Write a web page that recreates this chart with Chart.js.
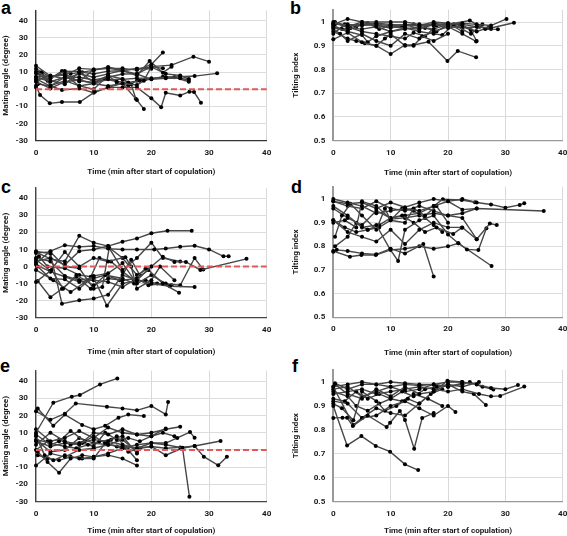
<!DOCTYPE html>
<html>
<head>
<meta charset="utf-8">
<script src="https://cdn.jsdelivr.net/npm/chart.js@4.4.0/dist/chart.umd.min.js"></script>
<style>
  body { margin: 0; background: #fff; width: 567px; height: 536px; position: relative; overflow: hidden; }
  .panel { position: absolute; }
  .tag { position: absolute; font: bold 18px "Liberation Sans", Arial, sans-serif; color: #000; line-height: 18px; }
</style>
</head>
<body>
<div class="tag" style="left:1px;top:-1px">a</div>
<div class="tag" style="left:290px;top:-1px">b</div>
<div class="tag" style="left:1px;top:178px">c</div>
<div class="tag" style="left:291px;top:178px">d</div>
<div class="tag" style="left:0px;top:357px">e</div>
<div class="tag" style="left:292px;top:357px">f</div>

<div class="panel" id="pa"><canvas id="ca"></canvas></div>
<div class="panel" id="pb"><canvas id="cb"></canvas></div>
<div class="panel" id="pc"><canvas id="cc"></canvas></div>
<div class="panel" id="pd"><canvas id="cd"></canvas></div>
<div class="panel" id="pe"><canvas id="ce"></canvas></div>
<div class="panel" id="pf"><canvas id="cf"></canvas></div>

<script>
/* ---------- DATA ---------- */

const xTicks = [0, 10, 20, 30, 40];
const angleTicks = [-30, -20, -10, 0, 10, 20, 30, 40];
const tiltTicks = [0.5, 0.6, 0.7, 0.8, 0.9, 1];

const xTitle = "Time (min after start of copulation)";
const angleTitle = "Mating angle (degree)";
const tiltTitle = "Tilting index";

// panel a: mating angle
const timeA = [
  [0, 2.5, 5, 7.5, 10, 12.5, 15, 17.5, 20, 22],
  [0, 0.7, 2.4, 4.5, 7.6, 10.2, 12.5, 15, 17.5, 18.7],
  [0, 2.5, 5, 7.5, 10, 12.5, 15, 17.5, 20, 22.5, 25, 26.5],
  [0, 2.5, 4.5, 7.5, 10, 12.5, 15, 17.5, 20, 21.7, 22.5, 25, 26.6, 27.4, 28.6],
  [0, 2.5, 5, 7.5, 10, 12.5, 15, 17.5, 20, 23.5, 27.3, 30],
  [0, 2.5, 5, 7.5, 10, 12.5, 15, 17.5, 20, 22.5, 25, 27.5, 31.4],
  [0, 2.5, 5, 7.5, 10, 12.5, 15, 17.5, 18.7, 20, 22],
  [0, 1, 2.5, 5, 7.5, 10, 12, 14, 16, 18, 20, 22, 24, 26.5],
  [0, 2.5, 5, 7.5, 10, 12.5, 15, 17.5, 19.7, 22, 23.5],
  [0.5, 2.5, 5, 7.5, 10, 12.5, 15, 16.5, 17.3],
  [0, 2.5, 5, 7.5, 10, 12.5, 15, 17.5, 20, 22.5, 25, 26.5],
  [0, 2, 4.5, 6, 8, 10, 12.5, 15, 17.5, 20],
  [0.3, 2.5, 5, 7.5, 10, 12.5, 14, 16, 17.5, 19]
];
const angleA = [
  [13.7, 7.7, 8.3, 12.2, 11.6, 12.2, 12.2, 11.2, 14.5, 21.5],
  [2, -3.4, -8.2, -7.4, -7.4, -1.5, 1.1, 3.4, -6.3, -11.5],
  [10.3, 6.4, 10.6, 10.3, 8.9, 10.6, 10.8, 8.9, 5.8, 6.4, 6.4, 5.4],
  [6, 1.9, -0.4, 0.5, -2, 1.1, 1.1, 1.1, -5.3, -10.5, -2, -3.6, -1.4, -1.6, -7.8],
  [9.3, 4.4, 7, 7, 5.4, 7, 8.9, 9, 13.2, 14.1, 19, 16.1],
  [4.4, 0.5, 4.4, 5.4, 3.4, 5.8, 5.8, 6.4, 6.5, 7, 7.3, 7.7, 9.3],
  [7.3, 7.7, 8.3, 1.9, 3.4, 1.9, 3.4, 2.5, 5, 13.2, 12.2],
  [1.1, 10, 2, 7, 5, 4, 6, 4.5, 4, 5, 6, 7.3, 7, 4.4],
  [12, 7, 9, 4.5, 11.6, 12.2, 11, 8, 16.5, 9.7, 13.2],
  [9.5, 5, 3, 10, 4, 8, 6, 3, -5.5],
  [5, 8, 6, 9, 7, 9, 11, 12, 13, 9, 8, 6],
  [7, 5, 10.6, 9, 10, 11, 13, 11, 12, 12],
  [3, 2, 5, 2, 0, 8, 4, 2, 5, 6]
];

// panel b: tilting index
const timeB = [
  [0, 2.5, 5, 7.5, 10, 12.5, 15, 17.5, 20, 22.5, 25, 27.5, 30.2],
  [0, 2.5, 5, 7.5, 10, 12.5, 14, 16.6, 19.9, 21.7, 24.9],
  [0, 1.2, 2.5, 5, 7.5, 10, 12.5, 15, 17.5, 20, 22.5, 24.9],
  [0, 2.5, 5, 7.5, 10, 12.5, 15, 17.5, 20, 22.5, 25, 27.5, 31.5],
  [0, 2.5, 5, 6, 7.5, 10, 12.5, 15, 17.5, 20, 23.8, 26.5, 28.7],
  [0, 2.5, 4, 5.5, 7.5, 9, 10, 12.5, 14, 15.5, 17.5, 20],
  [0, 2.5, 5, 7.5, 10, 12.5, 15, 17.5, 20, 22.5, 25, 27],
  [0.3, 2.5, 5, 7.5, 10, 12.5, 15, 17.5, 19, 21, 24, 26],
  [0, 1.5, 3, 5, 7.5, 10, 12.5, 14, 16, 18, 20, 22, 24, 25],
  [0.3, 2.5, 5, 7.5, 10, 12.5, 15, 17.5, 20, 22.5],
  [0, 2.5, 5, 7.5, 10, 12.5, 15, 17.5, 20, 22.5, 25.5, 27.5],
  [0, 2, 4, 6, 8, 10, 12, 14, 16, 18, 20]
];
const tiltB = [
  [0.99, 1.013, 1.0, 1.0, 1.0, 1.0, 0.99, 0.99, 0.99, 0.995, 0.99, 0.985, 1.013],
  [0.927, 0.955, 0.915, 0.9, 0.865, 0.903, 0.903, 0.917, 0.836, 0.878, 0.851],
  [0.97, 0.95, 0.92, 0.95, 0.92, 0.9, 0.95, 0.93, 0.96, 0.98, 0.95, 0.918],
  [1.0, 0.985, 0.99, 0.995, 0.99, 0.985, 0.985, 1.0, 0.995, 0.99, 0.98, 0.975, 0.997],
  [0.98, 0.96, 0.945, 0.915, 0.94, 0.96, 0.97, 0.98, 0.97, 0.99, 1.006, 0.97, 0.969],
  [0.96, 0.93, 0.92, 0.91, 0.9, 0.93, 0.95, 0.9, 0.9, 0.94, 0.92, 0.95],
  [0.995, 0.98, 1.0, 0.985, 0.975, 0.99, 0.97, 0.99, 0.975, 0.985, 0.96, 0.975],
  [1.0, 0.975, 0.97, 0.98, 0.96, 0.975, 0.96, 0.95, 0.945, 0.99, 0.95, 0.99],
  [0.985, 0.97, 0.975, 0.96, 0.95, 0.94, 0.93, 0.955, 0.94, 0.985, 0.99, 0.99, 0.965, 0.92],
  [0.99, 0.99, 0.985, 0.99, 0.985, 0.99, 0.985, 0.985, 0.995, 0.96],
  [0.975, 0.965, 0.99, 0.985, 0.98, 0.975, 0.97, 0.995, 0.985, 0.975, 0.98, 0.97],
  [0.95, 0.99, 0.98, 0.995, 0.97, 0.985, 0.98, 0.99, 0.975, 0.96, 0.99]
];

// panel c: mating angle
const timeC = [
  [0, 2.5, 5, 7.5, 10, 12.5, 15, 17.5, 20, 22.8, 27],
  [0, 2.5, 5, 7.5, 10, 12.5, 15, 17.5, 20.5, 22.5, 25, 27.5, 30, 32.5, 33.4],
  [0, 2.5, 4.5, 7.5, 10, 12.5, 15, 17.5, 20, 22, 24, 26, 28.5, 36.5],
  [0, 2.7, 4.7, 7, 10, 12.5, 15, 17.5, 19.5, 22, 24.8],
  [0, 2.5, 5, 7.5, 10, 12.3, 15, 17.5, 20, 23.2, 27.5],
  [0.3, 2.5, 5, 7.5, 10, 12.5, 15, 17.5, 20, 22.5, 25, 27.5, 29],
  [0, 2.5, 5, 7.5, 10, 12.5, 15.5, 16.5, 17.5, 20, 21.5, 24],
  [0.5, 2, 5, 7.5, 9.5, 11, 13, 15, 17, 19],
  [0, 2.5, 5, 7.5, 10, 12.5, 15, 17.5, 19.5, 22],
  [0.3, 2.5, 4.5, 7, 9.5, 12, 14.5, 16.5, 18],
  [0, 2.5, 5, 7.5, 10, 11.5, 12.7, 15, 17.5, 20],
  [0, 2.5, 5, 7.5, 10, 12.5, 15, 17.5, 20, 22, 25],
  [0, 3, 6, 9, 12, 15, 17, 19, 21, 23.5]
];
const angleC = [
  [8.5, 4.5, 3, 18, 14, 12, 14.5, 16.5, 19.5, 21, 21],
  [2, 9, 12.5, 11.5, 12, 10.5, 10, 10, 10, 10.6, 11.6, 12.2, 10, 6, 6],
  [9, 7.5, -21.8, -19.8, -18.8, -16.5, -5, -8, 0, 5.7, 2.7, 2.7, -2, 4.5],
  [-9, -2, -13, -5, -11, -7, -8, -7, -2, -10, -15.3],
  [5, 3, -5.5, -8, -6.5, -23, -10, -8, -10, -11.6, -12],
  [0, -7, -7.5, -13, -5.5, -4, 2, -10, -5, -10, -11, 5, -1.8],
  [4, -2.5, 8.5, 0, 5, 3, 5.5, 0, -13, -8, 0, -8],
  [6, 0, -1, -5, -6, 5, 3, -3, -8, -1],
  [1, -3, -6, -9, -8, -9, -12, -7, -11, -10],
  [-8.5, -18, -13, -6, -13, -5, -8, 4, -5],
  [8, 8.5, 0, -1, -13, -12, 11, 5, -5, 0],
  [3, 5, 1, 9, 10, 12, -2, 5, 14, 5, 3],
  [-2, -8, -15, -8, -5, -7, -10, -8, -10, -11]
];

// panel d: tilting index
const timeD = [
  [0, 2.5, 5, 7.5, 10, 12.5, 15, 17.5, 20, 22.5, 25, 27.5, 30, 32.5, 33.3],
  [0, 2.5, 5, 7.5, 10, 12.5, 15, 17.5, 20, 22.5, 25, 36.7],
  [0, 2.5, 5, 7.5, 10, 12.5, 15, 17.5, 20, 22.5, 25, 27.3, 28.5],
  [0, 0.6, 2.5, 5, 7.5, 10, 12.5, 15.7, 17.5],
  [0, 2.9, 4.9, 7.4, 10, 12.5, 15, 17.5, 20, 21.8, 23.3, 25.3, 26.7],
  [0, 2.5, 5, 7.5, 9.9, 11.3, 12.5, 15, 17.5, 20, 21.8, 27.6],
  [0.3, 1.5, 3, 5, 7.5, 9, 10, 12.5, 14, 16, 18, 20],
  [0, 2, 4, 6, 8, 10, 12, 14, 16, 18, 20.9, 22.4],
  [0, 2.5, 5, 7.5, 10, 12.5, 15, 17.5, 19.1, 22.4, 24.7],
  [0.3, 2.5, 4, 6, 8, 10, 12, 14, 16, 17.5, 19],
  [0, 2, 4, 5, 7.5, 10, 12.5, 15, 17.5, 20, 22.5, 25],
  [0, 2.5, 5, 7.5, 10, 12.5, 15, 17.5, 20, 22.5, 25]
];
const tiltD = [
  [0.99, 0.98, 0.985, 0.96, 0.985, 0.965, 0.985, 1.0, 0.99, 1.0, 0.985, 0.977, 0.963, 0.975, 0.982],
  [1.0, 0.985, 0.97, 0.94, 0.95, 0.96, 0.95, 0.97, 0.99, 0.955, 0.96, 0.949],
  [0.91, 0.86, 0.84, 0.82, 0.87, 0.81, 0.87, 0.9, 0.88, 0.88, 0.83, 0.896, 0.89],
  [0.777, 0.785, 0.78, 0.77, 0.766, 0.79, 0.77, 0.81, 0.672],
  [0.78, 0.756, 0.763, 0.763, 0.785, 0.79, 0.8, 0.79, 0.8, 0.813, 0.787, 0.784, 0.876],
  [0.97, 0.93, 0.88, 0.89, 0.787, 0.738, 0.87, 0.91, 0.93, 0.85, 0.813, 0.717],
  [0.84, 0.93, 0.98, 0.93, 0.87, 0.96, 0.91, 0.9, 0.96, 0.93, 0.97, 0.9],
  [0.91, 0.88, 0.86, 0.87, 0.89, 0.92, 0.93, 0.9, 0.86, 0.88, 0.852, 0.879],
  [0.96, 0.92, 0.89, 0.95, 0.92, 0.93, 0.94, 0.97, 0.999, 0.996, 0.986],
  [0.8, 0.84, 0.9, 0.87, 0.88, 0.91, 0.96, 0.95, 0.92, 0.89, 0.86],
  [0.9, 0.91, 0.88, 0.99, 0.97, 0.915, 0.92, 0.93, 0.94, 0.93, 0.92, 0.83],
  [0.99, 0.97, 0.96, 0.99, 0.96, 0.95, 0.97, 0.95, 0.93, 0.94, 0.96]
];

// panel e: mating angle
const timeE = [
  [0, 3, 6.2, 7.6, 11.1, 14.1],
  [0, 2.5, 5, 6.9, 12.3, 15, 17.5, 20, 22.5, 22.9],
  [0.3, 3, 5, 8, 10, 12, 14.3, 16, 18.7],
  [0, 2.5, 5, 7.5, 10, 12.5, 15, 17.5, 20, 22.5, 25],
  [0, 2.5, 5, 7.5, 10, 12.5, 15, 17.5, 20, 22.5, 25.4, 26.6],
  [0, 2.5, 5, 7.5, 10, 12.5, 15, 17.5, 20, 22.5, 25, 27.5, 29.1, 31.6, 33.1],
  [0.3, 2, 4, 6, 8, 10, 12.5, 15, 17.5],
  [0, 1.5, 3, 5, 7.5, 10, 12.5, 15, 17.5, 20, 22.5, 24.5, 26.7, 27.5],
  [0.3, 2, 4, 6, 8, 10, 12, 14, 16, 18, 20, 22.5, 25.3, 27.5, 32],
  [0, 2.5, 5, 7.5, 10, 12.5, 15, 17.5, 20, 22, 24],
  [0, 2.5, 4, 6, 8.5, 10, 12, 14, 16, 17.5],
  [0, 2.5, 5, 7, 9, 11, 13, 15, 17.5],
  [0, 2, 4, 6, 8, 10, 12, 14, 16, 18, 20, 22.5],
  [0.3, 2.5, 5, 7.5, 10, 12.5, 15, 17.5]
];
const angleE = [
  [10, 27.4, 30.9, 31.9, 38, 41.5],
  [22.5, 17.5, 21, 27, 25.1, 24.1, 23, 25.5, 20.6, 27.8],
  [24, 14, 20.5, 14.5, 12, 14, 18.7, 20.5, 19.7],
  [12, 5, 7, 11, 7, 13, 10, 9, 10, 12, 13.5],
  [5, 2, 4, 4, 6, 5, 3, 1, 4, 3, 1.3, -27.1],
  [-9, -2, -4, 0, 1, 3, 2, 1, 2, 1, 1.5, 2.3, -3.9, -8.9, -3.9],
  [-1, -7, -13.2, -5, -3, -4, -3, -5, -9],
  [8, -3, -6, -3, -5, -4, -2, 1, 3, 4, 4, 7, 10.4, 7.1],
  [-3, -5, -6, -4, -5, -5, 4, 8, -1, 1, 2, -3, 1, 2.3, 5.2],
  [3, 10, 5, 3, 10, 9, 12, 9, 8, 10, 8],
  [9, 3, 5, 11, 5, 8, 4, 2, 0, -6],
  [6, 4, 2, 1, 3, 5, 6, 8, -2],
  [0, 5, 6, 3, 4, 2, 10, 6, 7, 5, 8, 12.5],
  [5, -1, 0, 7, 4, 3, 6, -1]
];

// panel f: tilting index
const timeF = [
  [0, 2.4, 4.9, 7.4, 9.9, 12.5, 14.8],
  [0, 1.6, 2.4, 3.4, 6, 9.3, 9.9, 11.6, 12.5, 14.1, 15.5, 17.5],
  [0, 2.5, 5, 7.5, 10, 12.5, 15, 17.5, 20, 22.5, 25, 27.5, 30, 32.2],
  [0, 2.5, 5, 7.5, 10, 12.5, 15, 17.5, 20, 22.5, 25.4, 27.5, 29.1, 33.3],
  [0, 2.5, 5, 7.5, 10, 12.5, 15, 17.5, 20, 21.3],
  [0.3, 2.5, 5, 7.5, 10, 12.5, 15, 17.5, 20, 22.5, 24.5, 26.6],
  [0, 2, 4, 6, 8, 10, 12, 14, 16, 18, 20, 22.5, 25.4],
  [0, 1.5, 3.5, 5, 7.5, 9, 11, 13, 15, 17, 19],
  [0.3, 2.5, 5, 7.5, 10, 12.5, 15, 17.5, 20, 22.5, 23.8, 26, 27.9],
  [0, 2.5, 4, 6, 8, 10, 12, 14, 16.5, 19],
  [0, 3.5, 5, 7.5, 10, 12.5, 15, 17.5, 19.9, 22.4],
  [0, 2.5, 5, 7.5, 10, 12.5, 15, 17.5, 20, 22.5]
];
const tiltF = [
  [0.9, 0.735, 0.774, 0.733, 0.709, 0.656, 0.632],
  [0.85, 0.851, 0.851, 0.816, 0.86, 0.812, 0.83, 0.879, 0.841, 0.721, 0.85, 0.87],
  [0.98, 0.99, 1.0, 0.99, 1.0, 0.995, 0.99, 0.99, 1.0, 1.0, 0.99, 0.975, 0.97, 0.987],
  [0.95, 0.96, 0.97, 0.95, 0.96, 0.97, 0.98, 0.97, 0.96, 0.97, 0.95, 0.94, 0.942, 0.981],
  [0.92, 0.91, 0.85, 0.86, 0.9, 0.92, 0.89, 0.86, 0.9, 0.875],
  [0.99, 0.95, 0.93, 0.97, 0.94, 0.98, 0.95, 0.96, 0.99, 0.96, 0.95, 0.904],
  [0.93, 0.92, 0.96, 0.93, 0.95, 0.93, 0.96, 0.94, 0.97, 0.98, 0.99, 0.98, 1.0],
  [0.91, 0.89, 0.84, 0.96, 0.92, 0.88, 0.9, 0.93, 0.91, 0.95, 0.97],
  [0.995, 0.97, 0.99, 0.99, 0.98, 0.99, 0.985, 0.99, 0.98, 0.99, 1.0, 0.98, 0.969],
  [0.96, 0.94, 0.9, 0.88, 0.91, 0.93, 0.92, 0.95, 0.93, 0.9],
  [0.98, 0.82, 0.85, 0.89, 0.87, 0.86, 0.91, 0.96, 1.005, 1.0],
  [0.97, 0.98, 0.94, 0.96, 0.98, 0.96, 0.97, 0.99, 0.98, 0.995]
];

/* ---------- LAYOUT (page pixels) ---------- */

const FONT = { family: "Roboto, 'Liberation Sans', sans-serif", size: 8.1, weight: "bold" };
const LH = FONT.size * 1.2;

const panels = [
  { id: "a", left: 0,   top: 0,   w: 290, x0: 36,    xR: 266.7, yHi: 20.7, yLo: 140.7, titleY: 172, kind: "angle", times: timeA, vals: angleA, axisCol: "#333" },
  { id: "b", left: 290, top: 0,   w: 277, x0: 333.3, xR: 562.7, yHi: 22,   yLo: 140.7, titleY: 173, kind: "tilt",  times: timeB, vals: tiltB,  axisCol: "#999" },
  { id: "c", left: 0,   top: 180, w: 290, x0: 36,    xR: 266.7, yHi: 198.3, yLo: 317.7, titleY: 352, kind: "angle", times: timeC, vals: angleC, axisCol: "#444" },
  { id: "d", left: 290, top: 180, w: 277, x0: 333.3, xR: 562.7, yHi: 199,  yLo: 317.3, titleY: 353, kind: "tilt",  times: timeD, vals: tiltD,  axisCol: "#999" },
  { id: "e", left: 0,   top: 356, w: 290, x0: 36,    xR: 266.7, yHi: 381,  yLo: 501.7, titleY: 531, kind: "angle", times: timeE, vals: angleE, axisCol: "#444" },
  { id: "f", left: 290, top: 356, w: 277, x0: 333.3, xR: 562.7, yHi: 382,  yLo: 501.7, titleY: 531, kind: "tilt",  times: timeF, vals: tiltF,  axisCol: "#999" }
];

/* ---------- BUILD ---------- */

function makePanel(p) {
  const isAngle = p.kind === "angle";
  const ticks = isAngle ? angleTicks : tiltTicks;
  const yMin = ticks[0];
  const yTop = ticks[ticks.length - 1];
  const yMax = isAngle ? 46 : 1.052;
  const pxPerUnit = (p.yLo - p.yHi) / (yTop - yMin);
  const plotTop = p.yHi - (yMax - yTop) * pxPerUnit;
  const h = Math.ceil(p.titleY + LH / 2 + 1 - p.top);

  const div = document.getElementById("p" + p.id);
  div.style.left = p.left + "px";
  div.style.top = p.top + "px";
  div.style.width = p.w + "px";
  div.style.height = h + "px";

  const datasets = p.times.map((t, i) => ({
    data: t.map((x, j) => ({ x, y: p.vals[i][j] })),
    showLine: true,
    borderColor: "#474747",
    borderWidth: 1.4,
    pointRadius: 2,
    pointBackgroundColor: "#000",
    pointBorderWidth: 0,
    order: 1
  }));

  if (isAngle) {
    datasets.push({
      data: [{ x: 0, y: 0 }, { x: 40, y: 0 }],
      showLine: true,
      borderColor: "#e05a5c",
      borderWidth: 2,
      borderDash: [6, 3],
      pointRadius: 0,
      order: 0
    });
  }

  new Chart(document.getElementById("c" + p.id), {
    type: "scatter",
    data: { datasets },
    options: {
      responsive: true,
      maintainAspectRatio: false,
      animation: false,
      clip: false,
      layout: { padding: { left: 0, top: plotTop - p.top, right: p.left + p.w - p.xR, bottom: 0 } },
      plugins: { legend: { display: false }, tooltip: { enabled: false } },
      scales: {
        x: {
          type: "linear",
          min: 0,
          max: 40,
          afterBuildTicks: s => { s.ticks = xTicks.map(v => ({ value: v })); },
          afterFit: s => {
            s.height = p.top + h - p.yLo;
            s.paddingLeft = 0; s.paddingRight = 0;
          },
          grid: { color: "#d9d9d9", drawTicks: false },
          border: { color: p.axisCol, width: 1.3 },
          ticks: { padding: 7, color: "#1a1a1a", font: FONT, maxRotation: 0 },
          title: { display: true, text: xTitle, color: "#1a1a1a", font: FONT, padding: { top: 0, bottom: 1 } }
        },
        y: {
          type: "linear",
          min: yMin,
          max: yMax,
          afterBuildTicks: s => { s.ticks = ticks.map(v => ({ value: v })); },
          afterFit: s => {
            s.width = p.x0 - p.left;
            s.paddingTop = 0; s.paddingBottom = 0;
          },
          grid: { color: "#dcdcdc", drawTicks: false },
          border: { color: p.axisCol, width: isAngle ? 1.3 : 2 },
          ticks: {
            padding: 8,
            color: "#1a1a1a",
            font: FONT,
            callback: v => String(Math.round(v * 10) / 10)
          },
          title: { display: true, text: isAngle ? angleTitle : tiltTitle, color: "#1a1a1a", font: FONT, padding: { top: 1, bottom: 0 } }
        }
      }
    }
  });
}

panels.forEach(makePanel);
</script>
</body>
</html>
